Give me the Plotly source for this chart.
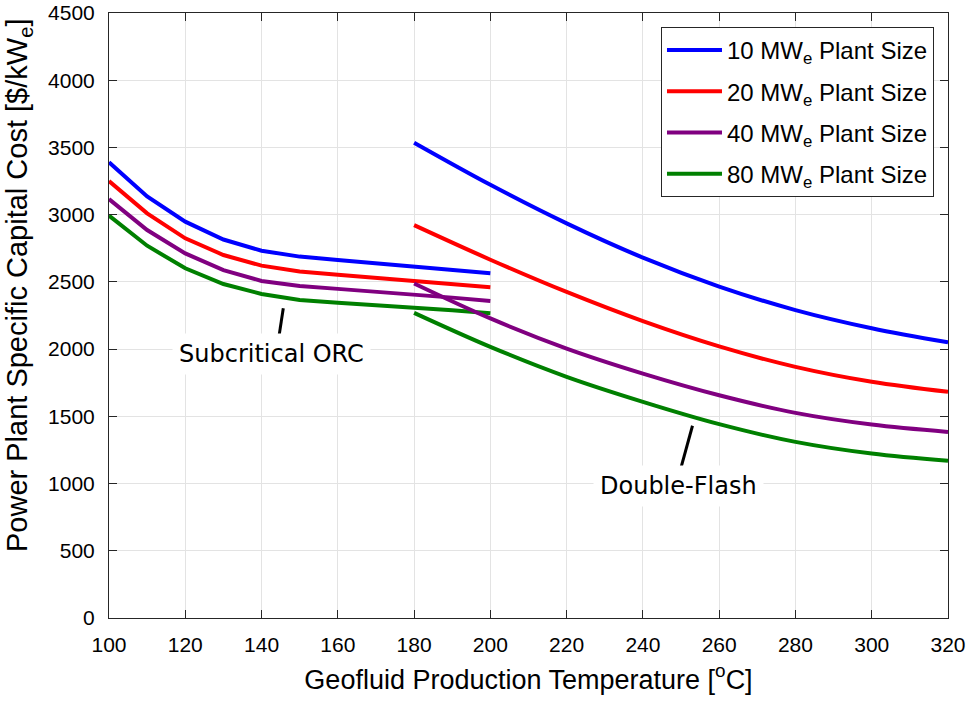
import plotly.graph_objects as go

# ---- data ----
orc_temp = [100, 110, 120, 130, 140, 150, 160, 170, 180, 190, 200]
orc_10 = [3390, 3135, 2948, 2815, 2732, 2688, 2662, 2637, 2612, 2588, 2564]
orc_20 = [3250, 3010, 2824, 2700, 2621, 2577, 2553, 2530, 2507, 2483, 2460]
orc_40 = [3116, 2886, 2712, 2588, 2507, 2470, 2448, 2428, 2408, 2383, 2358]
orc_80 = [2993, 2769, 2601, 2484, 2410, 2365, 2345, 2328, 2311, 2289, 2266]

df_temp = [180, 200, 220, 240, 260, 280, 300, 320]
df_10 = [3535, 3222, 2935, 2680, 2465, 2290, 2155, 2050]
df_20 = [2922, 2665, 2425, 2208, 2020, 1868, 1757, 1682]
df_40 = [2488, 2228, 2004, 1818, 1657, 1526, 1439, 1384]
df_80 = [2270, 2017, 1794, 1608, 1442, 1310, 1223, 1169]

sizes = ["10", "20", "40", "80"]
colors = ["#0000FF", "#FF0000", "#800080", "#008000"]

x_ticks = [100, 120, 140, 160, 180, 200, 220, 240, 260, 280, 300, 320]
y_ticks = [0, 500, 1000, 1500, 2000, 2500, 3000, 3500, 4000, 4500]

fig = go.Figure()
orc_all = [orc_10, orc_20, orc_40, orc_80]
df_all = [df_10, df_20, df_40, df_80]
for s, c, yv in zip(sizes, colors, orc_all):
    fig.add_trace(go.Scatter(x=orc_temp, y=yv, mode="lines",
                             line=dict(color=c, width=4),
                             name=f"{s} MW<sub>e</sub> Plant Size",
                             legendgroup=s, showlegend=True))
for s, c, yv in zip(sizes, colors, df_all):
    fig.add_trace(go.Scatter(x=df_temp, y=yv, mode="lines",
                             line=dict(color=c, width=4, shape="spline", smoothing=1.0),
                             name=f"{s} MW<sub>e</sub> Plant Size",
                             legendgroup=s, showlegend=False))

axcol = "#262626"
common = dict(showline=True, linecolor=axcol, linewidth=1, mirror="allticks",
              ticks="inside", ticklen=8, tickcolor=axcol, tickwidth=1,
              showgrid=True, gridcolor="#e3e3e3", gridwidth=1, zeroline=False,
              ticklabeloverflow="allow",
              tickfont=dict(family="Liberation Sans, Arial", size=21, color="black"))

fig.update_xaxes(range=[100, 320], tickvals=x_ticks, ticklabelstandoff=8,
                 title=dict(text="Geofluid Production Temperature [<sup>o</sup>C]",
                            font=dict(family="Liberation Sans, Arial", size=27, color="black"),
                            standoff=14),
                 **common)
fig.update_yaxes(range=[0, 4500], tickvals=y_ticks, ticklabelstandoff=9, **common)

# y-axis title (placed as in the reference, slightly above centre)
fig.add_annotation(xref="paper", yref="paper", x=-0.1299, y=0.5504,
                   xanchor="left", yanchor="middle", textangle=-90,
                   text="Power Plant Specific Capital Cost [$/kW<sub>e</sub>]",
                   showarrow=False, borderpad=0,
                   font=dict(family="Liberation Sans, Arial", size=29, color="black"))

ann_font = dict(family="DejaVu Sans", size=24, color="black")
fig.add_shape(type="line", xref="x", yref="y", x0=145.7, y0=2304, x1=144.4, y1=2063,
              line=dict(color="black", width=3))
fig.add_shape(type="line", xref="x", yref="y", x0=253.0, y0=1430, x1=249.7, y1=1088,
              line=dict(color="black", width=3))
fig.add_annotation(x=142.7, y=1964, xref="x", yref="y", text="Subcritical ORC",
                   showarrow=False, font=ann_font, bgcolor="white", borderpad=6)
fig.add_annotation(x=249.4, y=982, xref="x", yref="y", text="Double-Flash",
                   showarrow=False, font=ann_font, bgcolor="white", borderpad=6)

fig.update_layout(
    width=969, height=703,
    margin=dict(l=109, r=21, t=13, b=85, autoexpand=False),
    paper_bgcolor="white", plot_bgcolor="white",
    legend=dict(x=0.9833, y=0.9769, xanchor="right", yanchor="top",
                bgcolor="white", bordercolor=axcol, borderwidth=1,
                font=dict(family="Liberation Sans, Arial", size=24, color="black"),
                itemwidth=55, tracegroupgap=7),
)

fig.write_html("out.html", config={"displayModeBar": False},
               post_script="document.body.style.margin='0';document.body.style.overflow='hidden';")
